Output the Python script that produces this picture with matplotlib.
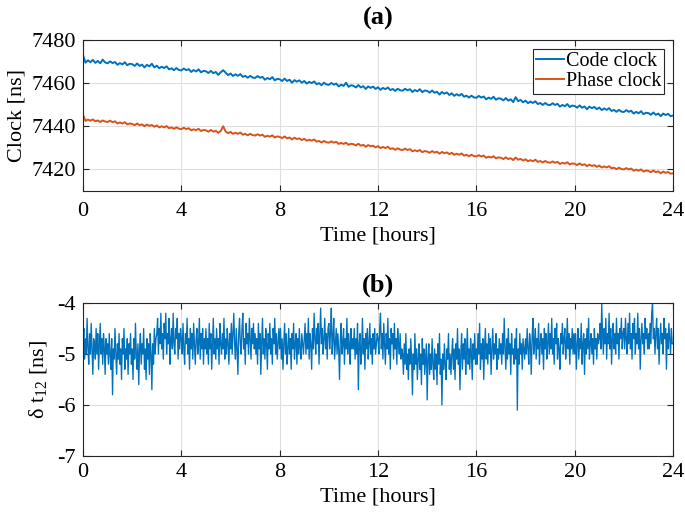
import numpy as np
import matplotlib
matplotlib.use("Agg")
import matplotlib.pyplot as plt

plt.rcParams['font.family'] = ['Liberation Serif', 'DejaVu Serif']
plt.rcParams['mathtext.fontset'] = 'custom'
plt.rcParams['mathtext.rm'] = 'Liberation Serif'
plt.rcParams['mathtext.it'] = 'Liberation Serif:italic'

# ---------------- data ----------------
# Panel (a): 10 samples per hour, 0..24 h
code_clock = [
    7473.0, 7469.5, 7470.6, 7469.7, 7470.8, 7469.4, 7470.3, 7469.2, 7470.9, 7469.6,
    7469.2, 7470.1, 7469.3, 7469.8, 7468.5, 7469.3, 7468.7, 7469.7, 7468.3, 7469.0,
    7468.8, 7468.0, 7469.1, 7468.0, 7468.6, 7467.3, 7468.5, 7467.8, 7469.0, 7467.3,
    7468.1, 7466.9, 7467.6, 7467.0, 7467.8, 7466.4, 7466.9, 7466.0, 7467.0, 7466.1,
    7465.9, 7466.8, 7466.0, 7466.5, 7465.2, 7466.1, 7465.4, 7466.4, 7465.0, 7465.7,
    7465.5, 7464.7, 7465.7, 7464.6, 7465.2, 7463.8, 7465.0, 7466.0, 7464.9, 7463.7,
    7464.5, 7463.3, 7464.1, 7463.4, 7464.2, 7462.9, 7463.4, 7462.5, 7463.4, 7462.6,
    7462.4, 7463.3, 7462.5, 7462.9, 7461.6, 7462.4, 7461.8, 7462.8, 7461.3, 7462.0,
    7461.8, 7461.0, 7462.1, 7461.0, 7461.6, 7460.2, 7461.4, 7460.7, 7461.3, 7460.2,
    7461.0, 7459.8, 7460.6, 7460.0, 7460.8, 7459.5, 7460.0, 7459.1, 7460.2, 7459.4,
    7459.2, 7460.1, 7459.3, 7459.8, 7458.5, 7459.3, 7458.7, 7460.2, 7458.3, 7459.0,
    7458.8, 7458.0, 7459.1, 7458.0, 7458.6, 7457.3, 7458.5, 7457.8, 7458.4, 7457.3,
    7458.1, 7456.9, 7457.8, 7457.2, 7458.0, 7456.8, 7457.3, 7456.4, 7457.4, 7456.7,
    7456.5, 7457.4, 7456.7, 7457.2, 7455.9, 7456.8, 7456.2, 7457.2, 7455.8, 7456.6,
    7456.4, 7455.6, 7456.6, 7455.5, 7456.0, 7454.7, 7455.9, 7455.1, 7455.7, 7454.5,
    7455.3, 7454.1, 7454.9, 7454.2, 7455.0, 7453.7, 7454.2, 7453.3, 7454.2, 7453.4,
    7453.2, 7454.1, 7453.3, 7453.8, 7452.5, 7453.3, 7452.7, 7453.7, 7452.3, 7453.0,
    7452.8, 7452.0, 7453.1, 7451.9, 7452.5, 7451.2, 7453.5, 7451.7, 7452.2, 7451.1,
    7451.9, 7450.7, 7451.5, 7450.8, 7451.6, 7450.3, 7450.8, 7449.9, 7450.8, 7450.0,
    7449.8, 7450.7, 7449.9, 7450.4, 7449.1, 7449.9, 7449.3, 7450.3, 7448.9, 7449.6,
    7449.4, 7448.6, 7449.7, 7448.6, 7449.2, 7447.9, 7449.1, 7448.4, 7449.0, 7447.9,
    7448.7, 7447.5, 7448.3, 7447.6, 7448.4, 7447.1, 7447.6, 7446.7, 7447.6, 7446.8,
    7446.6, 7447.5, 7446.7, 7447.2, 7445.9, 7446.7, 7446.0, 7447.0, 7445.6, 7446.3,
    7446.1, 7445.3, 7446.4, 7445.3, 7445.9, 7444.7, 7445.9, 7445.2, 7445.8, 7444.7,
    7445.0,
]
phase_clock = [
    7445.3, 7442.5, 7443.1, 7442.6, 7443.2, 7442.3, 7442.7, 7442.0, 7442.7, 7442.2,
    7442.0, 7442.6, 7441.9, 7442.3, 7441.3, 7441.8, 7441.3, 7441.9, 7440.9, 7441.3,
    7441.1, 7440.5, 7441.3, 7440.5, 7440.9, 7440.0, 7440.8, 7440.2, 7440.6, 7439.8,
    7440.4, 7439.5, 7440.0, 7439.5, 7440.1, 7439.1, 7439.5, 7438.8, 7439.5, 7438.9,
    7438.7, 7439.3, 7438.7, 7439.1, 7438.1, 7438.6, 7438.2, 7438.8, 7437.8, 7438.3,
    7438.1, 7437.5, 7438.3, 7437.5, 7437.9, 7437.0, 7437.8, 7440.0, 7437.6, 7436.8,
    7437.4, 7436.5, 7437.0, 7436.5, 7437.1, 7436.1, 7436.5, 7435.8, 7436.5, 7435.9,
    7435.7, 7436.3, 7435.7, 7436.1, 7435.1, 7435.6, 7435.2, 7435.8, 7434.8, 7435.3,
    7435.1, 7434.5, 7435.3, 7434.4, 7434.8, 7433.9, 7434.7, 7434.1, 7434.4, 7433.6,
    7434.2, 7433.3, 7433.8, 7433.3, 7433.9, 7432.9, 7433.2, 7432.5, 7433.2, 7432.6,
    7432.4, 7433.0, 7432.4, 7432.8, 7431.8, 7432.3, 7431.8, 7432.4, 7431.4, 7431.9,
    7431.7, 7431.1, 7431.9, 7431.0, 7431.4, 7430.5, 7431.3, 7430.7, 7431.0, 7430.2,
    7430.8, 7429.9, 7430.4, 7429.9, 7430.5, 7429.5, 7429.8, 7429.1, 7429.8, 7429.2,
    7429.0, 7429.6, 7429.0, 7429.4, 7428.4, 7428.9, 7428.4, 7429.0, 7428.0, 7428.5,
    7428.3, 7427.7, 7428.5, 7427.8, 7428.2, 7427.3, 7428.1, 7427.5, 7427.9, 7427.1,
    7427.7, 7426.8, 7427.3, 7426.8, 7427.4, 7426.4, 7426.8, 7426.1, 7426.8, 7426.2,
    7426.0, 7426.6, 7426.0, 7426.4, 7425.4, 7425.9, 7425.5, 7426.1, 7425.1, 7425.6,
    7425.4, 7424.8, 7425.6, 7424.8, 7425.2, 7424.3, 7425.5, 7424.5, 7424.9, 7424.1,
    7424.7, 7423.8, 7424.3, 7423.8, 7424.5, 7423.5, 7423.9, 7423.2, 7423.9, 7423.3,
    7423.1, 7423.7, 7423.1, 7423.5, 7422.5, 7423.1, 7422.7, 7423.3, 7422.3, 7422.8,
    7422.6, 7422.0, 7422.8, 7422.0, 7422.4, 7421.5, 7422.2, 7421.6, 7422.0, 7421.2,
    7421.8, 7420.9, 7421.4, 7420.9, 7421.5, 7420.5, 7420.8, 7420.1, 7420.8, 7420.2,
    7420.0, 7420.6, 7420.0, 7420.4, 7419.4, 7419.9, 7419.4, 7420.0, 7419.0, 7419.5,
    7419.3, 7418.7, 7419.5, 7418.7, 7419.1, 7418.2, 7419.0, 7418.4, 7418.8, 7418.0,
    7418.2,
]

# Panel (b): 30 samples per hour, 0..24 h
dt12 = [
    -4.8, -4.5, -5.1, -4.7, -5.0, -4.3, -4.9, -5.2, -4.6, -5.0, -4.4, -4.9, -5.4, -4.7, -4.8,
    -5.1, -4.5, -5.0, -4.6, -5.3, -4.8, -4.4, -5.0, -4.7, -5.2, -4.6, -4.9, -5.4, -4.7, -5.0,
    -4.8, -5.2, -4.6, -5.0, -5.3, -4.7, -5.8, -4.9, -5.1, -4.5, -5.0, -5.4, -4.8, -5.1, -4.6,
    -5.2, -4.9, -5.5, -4.7, -5.0, -4.5, -5.3, -4.9, -5.1, -4.7, -5.4, -4.8, -5.0, -4.6, -5.2,
    -4.9, -5.5, -4.7, -5.1, -4.4, -5.0, -5.3, -4.8, -5.6, -4.9, -4.6, -5.2, -4.8, -5.0, -4.5,
    -5.3, -4.9, -5.5, -4.7, -5.1, -4.8, -5.4, -4.6, -5.0, -5.7, -4.8, -5.2, -4.5, -5.0, -4.7,
    -4.6, -4.3, -5.0, -4.5, -4.8, -4.2, -4.9, -4.6, -5.1, -4.4, -4.7, -4.2, -5.0, -4.6, -4.8,
    -4.3, -5.2, -4.7, -4.5, -4.9, -4.2, -4.8, -5.0, -4.5, -4.7, -4.3, -5.1, -4.6, -4.9, -4.5,
    -4.7, -5.0, -4.4, -4.9, -5.2, -4.6, -4.8, -4.3, -5.0, -4.7, -5.3, -4.5, -4.9, -4.6, -5.1,
    -4.4, -4.8, -5.2, -4.7, -4.5, -5.0, -4.8, -4.3, -5.1, -4.6, -4.9, -4.5, -5.2, -4.7, -4.9,
    -4.5, -5.0, -4.7, -5.2, -4.4, -4.9, -4.6, -5.3, -4.8, -4.3, -5.0, -4.7, -5.1, -4.5, -4.9,
    -4.7, -5.2, -4.4, -4.8, -5.0, -4.6, -4.9, -4.3, -5.1, -4.7, -5.0, -4.5, -4.8, -5.2, -4.6,
    -4.9, -4.4, -5.0, -4.6, -4.2, -4.8, -5.1, -4.5, -4.9, -5.4, -4.6, -4.3, -4.8, -5.0, -4.5,
    -4.2, -4.9, -4.7, -5.2, -4.4, -4.8, -4.6, -5.0, -4.3, -4.7, -5.1, -4.5, -4.8, -4.4, -4.9,
    -4.6, -5.0, -4.7, -5.2, -4.4, -4.9, -4.6, -5.4, -4.8, -4.3, -5.0, -4.7, -5.1, -4.5, -4.8,
    -5.3, -4.6, -4.9, -4.4, -5.0, -4.7, -5.2, -4.5, -4.8, -4.3, -5.0, -4.6, -5.1, -4.8, -4.5,
    -4.9, -4.5, -5.1, -4.7, -5.3, -4.8, -4.4, -5.0, -4.6, -5.2, -4.9, -4.5, -5.0, -4.7, -5.3,
    -4.6, -4.9, -4.4, -5.1, -4.8, -4.6, -5.2, -4.7, -5.0, -4.5, -4.9, -5.1, -4.6, -4.8, -5.0,
    -4.7, -4.4, -5.0, -4.6, -4.9, -4.3, -5.1, -4.6, -4.8, -5.3, -4.5, -4.9, -4.2, -4.7, -5.0,
    -4.5, -4.8, -4.4, -5.2, -4.6, -4.1, -4.8, -4.5, -5.0, -4.7, -4.3, -4.9, -4.6, -5.1, -4.5,
    -4.4, -4.9, -4.6, -4.1, -5.0, -4.7, -4.3, -5.1, -4.8, -4.5, -5.0, -4.6, -4.9, -5.5, -4.7,
    -4.4, -5.0, -4.8, -4.5, -5.2, -4.7, -4.9, -4.3, -5.0, -4.6, -4.8, -5.2, -4.5, -4.9, -4.7,
    -4.9, -4.5, -5.1, -4.7, -5.0, -4.4, -5.7, -4.8, -4.6, -5.2, -4.9, -4.3, -5.0, -4.7, -5.3,
    -4.6, -4.9, -4.5, -5.1, -4.8, -4.4, -5.0, -4.7, -5.2, -4.6, -4.9, -4.5, -5.0, -4.8, -4.6,
    -4.7, -5.0, -4.5, -4.2, -4.9, -4.6, -5.1, -4.4, -4.8, -5.2, -4.6, -4.9, -4.3, -5.0, -4.7,
    -5.3, -4.5, -4.8, -4.6, -5.1, -4.4, -4.9, -4.7, -5.2, -4.5, -4.8, -5.0, -4.6, -5.1, -4.9,
    -5.0, -5.4, -4.8, -5.2, -4.6, -5.3, -5.0, -5.5, -4.9, -5.2, -4.7, -5.1, -5.8, -5.0, -5.3,
    -4.6, -5.2, -4.9, -5.5, -5.1, -4.8, -5.3, -5.0, -5.6, -4.7, -5.2, -4.9, -5.4, -5.1, -4.8,
    -5.9, -5.1, -4.8, -5.4, -5.0, -5.3, -4.7, -5.2, -5.5, -4.9, -5.3, -5.0, -5.6, -4.8, -5.2,
    -4.6, -5.4, -5.1, -6.0, -5.0, -5.3, -4.8, -5.2, -5.5, -4.9, -5.1, -4.6, -5.3, -5.0, -5.4,
    -5.0, -4.7, -5.3, -4.9, -5.5, -4.8, -5.1, -4.5, -5.2, -4.9, -5.7, -5.0, -4.6, -5.3, -4.8,
    -5.1, -4.7, -5.4, -5.0, -4.5, -5.2, -4.9, -5.3, -4.7, -5.0, -5.5, -4.8, -5.1, -4.6, -5.2,
    -4.9, -5.2, -4.6, -5.0, -4.4, -5.3, -4.8, -5.1, -4.7, -5.5, -4.9, -4.5, -5.1, -4.8, -5.2,
    -4.6, -5.0, -4.7, -5.4, -4.9, -4.5, -5.1, -4.8, -5.0, -4.6, -5.3, -4.9, -5.1, -4.7, -5.0,
    -4.8, -5.2, -4.6, -5.0, -4.3, -4.9, -5.3, -4.7, -5.1, -4.5, -5.0, -4.8, -5.4, -4.6, -5.0,
    -4.9, -5.2, -4.7, -5.1, -4.5, -6.1, -4.9, -5.2, -4.6, -5.0, -4.8, -5.3, -4.7, -4.9, -5.1,
    -4.7, -5.0, -4.5, -4.9, -5.2, -4.6, -4.8, -5.4, -4.7, -4.3, -5.0, -4.8, -4.5, -5.1, -4.7,
    -4.9, -4.4, -5.2, -4.8, -4.6, -5.0, -4.7, -5.3, -4.5, -4.9, -4.6, -5.1, -4.8, -4.4, -5.0,
    -4.6, -4.9, -4.3, -5.0, -4.7, -5.2, -4.5, -4.8, -4.4, -5.1, -4.7, -4.9, -5.3, -4.6, -4.8,
    -4.4, -5.0, -4.7, -4.5, -5.1, -4.8, -4.3, -4.9, -4.6, -5.2, -4.7, -4.9, -4.5, -5.0, -4.6,
    -5.0, -4.6, -5.3, -4.8, -4.5, -5.1, -4.7, -4.9, -4.4, -5.2, -4.8, -4.6, -5.4, -4.7, -5.0,
    -4.5, -4.9, -4.3, -5.1, -4.8, -4.6, -5.0, -4.7, -5.2, -4.5, -4.9, -4.7, -5.1, -4.6, -4.8,
    -4.7, -4.4, -4.9, -4.0, -4.6, -5.0, -4.5, -4.8, -4.3, -5.1, -4.6, -4.8, -4.2, -4.9, -4.5,
    -5.2, -4.7, -4.4, -4.9, -4.6, -5.0, -4.3, -4.8, -4.6, -5.1, -4.5, -4.7, -4.3, -4.9, -4.6,
    -4.5, -4.9, -4.3, -4.7, -5.0, -4.4, -4.8, -4.2, -4.9, -4.6, -5.1, -4.4, -4.7, -4.3, -5.0,
    -4.6, -4.8, -4.2, -4.9, -4.5, -5.3, -4.7, -4.4, -4.8, -4.6, -5.0, -4.3, -4.7, -4.5, -4.9,
    -4.6, -4.9, -4.4, -4.8, -4.2, -4.0, -4.7, -4.5, -5.0, -4.6, -4.3, -4.9, -4.5, -5.2, -4.7,
    -4.4, -4.8, -4.6, -5.0, -4.3, -4.7, -4.5, -5.3, -4.6, -4.9, -4.4, -4.7, -5.0, -4.5, -4.8,
    -4.8,
]

series_labels = ["Code clock", "Phase clock"]
x_ticks = [0, 4, 8, 12, 16, 20, 24]
ya_ticks = [7420, 7440, 7460, 7480]
yb_ticks = [-7, -6, -5, -4]
yb_ticklabels = ['-7', '-6', '-5', '-4']

t_a = np.linspace(0, 24, len(code_clock))
t_b = np.linspace(0, 24, len(dt12))

c_blue = '#0072BD'
c_orange = '#D95319'
ax_col = '#262626'
FS = 16

fig = plt.figure(figsize=(6.85, 5.17), dpi=100)
L, W = 0.1212, 0.8613
ax1 = fig.add_axes([L, 0.6306, W, 0.292])
ax2 = fig.add_axes([L, 0.1180, W, 0.2959])

def style(ax, xpad, xlabelpad):
    ax.grid(True, color='#DFDFDF', linewidth=0.8)
    ax.set_axisbelow(True)
    ax.tick_params(direction='in', top=True, right=True, length=4,
                   width=0.8, color=ax_col, labelsize=FS, pad=5)
    ax.tick_params(axis='x', pad=xpad)
    for s in ax.spines.values():
        s.set_color(ax_col)
        s.set_linewidth(0.8)
    ax.set_xlim(0, 24)
    ax.set_xticks(x_ticks)
    ax.set_xlabel('Time [hours]', fontsize=FS, labelpad=xlabelpad)

ax1.plot(t_a, code_clock, color=c_blue, lw=1.4, label=series_labels[0])
ax1.plot(t_a, phase_clock, color=c_orange, lw=1.4, label=series_labels[1])
style(ax1, 8, 4)
ax1.set_ylim(7410, 7480)
ax1.set_yticks(ya_ticks)
ax1.set_ylabel('Clock [ns]', fontsize=FS, labelpad=4)
ax1.set_title('(a)', fontsize=19, fontweight='bold', pad=11)
leg = ax1.legend(loc='upper right', fontsize=14.5, frameon=True, fancybox=False,
                 edgecolor=ax_col, framealpha=1, handlelength=1.35,
                 handletextpad=0.1, borderpad=0.15, labelspacing=0.05,
                 borderaxespad=0.45)
leg.get_frame().set_linewidth(0.8)

ax2.plot(t_b, dt12, color=c_blue, lw=0.95)
style(ax2, 5, 4)
ax2.set_ylim(-7, -4)
ax2.set_yticks(yb_ticks)
ax2.set_yticklabels(yb_ticklabels)
ax2.set_ylabel('δ t$_{12}$ [ns]', fontsize=FS, labelpad=6)
ax2.set_title('(b)', fontsize=19, fontweight='bold', pad=8)

fig.savefig('out.png', dpi=100)
